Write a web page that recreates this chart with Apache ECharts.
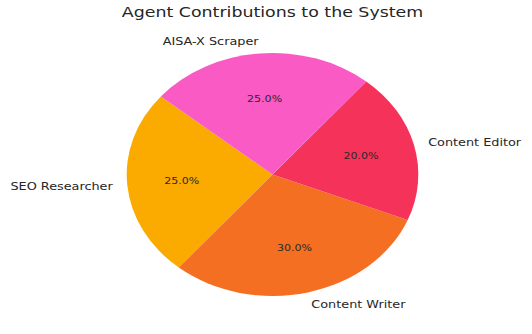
<!DOCTYPE html>
<html>
<head>
<meta charset="utf-8">
<script src="https://cdn.jsdelivr.net/npm/echarts@6/dist/echarts.min.js"></script>
<style>
html,body{margin:0;padding:0;background:#fff;overflow:hidden;}
#chart{width:443.33px;height:334px;transform:scaleX(1.2);transform-origin:0 0;}
</style>
</head>
<body>
<div id="chart"></div>
<script>
const categories = ['SEO Researcher', 'Content Writer', 'Content Editor', 'AISA-X Scraper'];
const values = [25, 30, 20, 25];
const colors = ['#fbaa00', '#f46f22', '#f5335a', '#f95ac4'];
const titleText = 'Agent Contributions to the System';

const R = 121.5;
const CX = 227.1, CY = 174.5;
const font = 'DejaVu Sans';
const data = categories.map((c, i) => ({ name: c, value: values[i], itemStyle: { color: colors[i] } }));
const total = values.reduce((a, b) => a + b, 0);

const chart = echarts.init(document.getElementById('chart'), null, { renderer: 'svg' });
chart.setOption({
  animation: false,
  title: {
    text: titleText, left: CX, top: 5, textAlign: 'center', padding: 0,
    textStyle: { fontFamily: font, fontSize: 14.5, fontWeight: 'normal', color: '#262626' }
  },
  series: [
    {
      type: 'pie', center: [CX, CY], radius: [0, R],
      startAngle: 140, clockwise: false, silent: true,
      data: data,
      label: {
        show: true, position: 'outside', fontFamily: font, fontSize: 10.7, color: '#262626',
        distanceToLabelLine: 0, formatter: '{b}'
      },
      labelLine: { show: false, length: R * 0.1, length2: 0 },
      avoidLabelOverlap: false
    },
    {
      type: 'pie', center: [CX, CY], radius: [0, R * 1.2],
      startAngle: 140, clockwise: false, silent: true,
      data: categories.map((c, i) => ({ name: c, value: values[i] })),
      itemStyle: { color: 'rgba(0,0,0,0)' },
      label: {
        show: true, position: 'inside', fontFamily: font, fontSize: 9.2, color: '#2a2a2a',
        formatter: p => (p.value / total * 100).toFixed(1) + '%'
      },
      labelLine: { show: false }
    }
  ]
});
</script>
</body>
</html>
